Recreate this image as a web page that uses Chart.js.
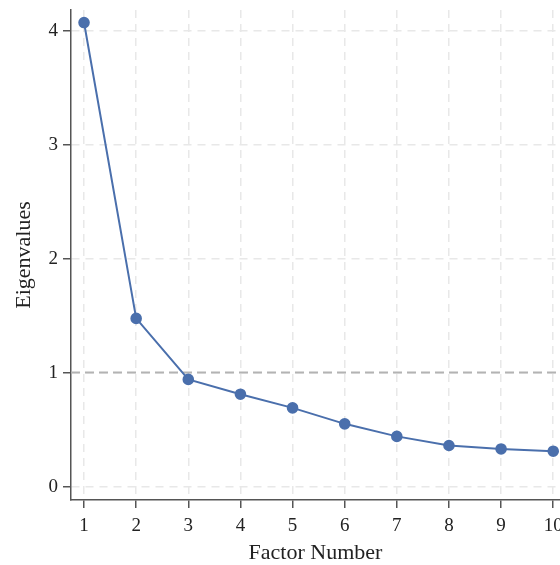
<!DOCTYPE html>
<html>
<head>
<meta charset="utf-8">
<script src="https://cdn.jsdelivr.net/npm/chart.js@4"></script>
<style>
  body { margin: 0; background: #fff; }
  #wrap { width: 560px; height: 565px; }
</style>
</head>
<body>
<div id="wrap"><canvas id="myChart"></canvas></div>
<script>
// DATA
const factors = [1, 2, 3, 4, 5, 6, 7, 8, 9, 10];
const eigenvalues = [4.07, 1.475, 0.94, 0.81, 0.69, 0.55, 0.44, 0.36, 0.33, 0.31];
const xTicks = [1, 2, 3, 4, 5, 6, 7, 8, 9, 10];
const yTicks = [0, 1, 2, 3, 4];
const cutoff = 1;

// AXIS RANGES
const xMin = 0.75, xMax = 10.13;
const yMin = -0.118, yMax = 4.18;

const serif = 'Liberation Serif';
const gridColor = '#e8e8e8';
const axisColor = '#555555';

// BUILD POINTS
let points = factors.map((f, i) => ({ x: f, y: eigenvalues[i] }));
let refLine = [{ x: xMin, y: cutoff }, { x: xMax, y: cutoff }];

Chart.defaults.font.family = serif;
Chart.defaults.color = '#222';

// no extra room for overflowing tick labels (the "10" is cut off like the original)
function noPad(s) {
    s.paddingLeft = 0;
    s.paddingRight = 0;
    s.paddingTop = 0;
    s.paddingBottom = 0;
}

var ctx = document.getElementById('myChart').getContext('2d');
var myChart = new Chart(ctx, {
    type: 'scatter',
    data: {
        datasets: [{
                label: 'Eigenvalues',
                data: points,
                showLine: true,
                borderColor: 'rgb(74, 111, 172)',
                backgroundColor: 'rgb(74, 111, 172)',
                borderWidth: 2,
                pointRadius: 4.8,
                pointHoverRadius: 4.8,
                order: 0
            },
            {
                label: 'cutoff',
                data: refLine,
                showLine: true,
                borderColor: '#b3b3b3',
                borderWidth: 2,
                borderDash: [9, 5],
                pointRadius: 0,
                order: 1
            }
        ]
    },
    options: {
        responsive: true,
        maintainAspectRatio: false,
        animation: false,
        layout: { autoPadding: false, padding: { top: 10, right: 0, left: 0, bottom: 0 } },
        plugins: {
            legend: { display: false },
            tooltip: { enabled: false }
        },
        scales: {
            x: {
                type: 'linear',
                min: xMin,
                max: xMax,
                afterBuildTicks: s => { s.ticks = xTicks.map(v => ({ value: v })); },
                afterFit: s => { s.height = 65; noPad(s); },
                ticks: {
                    font: { size: 19 },
                    color: '#222',
                    padding: 7,
                    maxRotation: 0,
                    callback: v => v
                },
                grid: {
                    color: gridColor,
                    lineWidth: 1.5,
                    tickLength: 8,
                    tickColor: axisColor,
                    tickWidth: 1.5
                },
                border: { display: true, color: axisColor, width: 1.5, dash: [8, 6] },
                title: {
                    display: true,
                    text: 'Factor Number',
                    font: { size: 22 },
                    color: '#222',
                    padding: { top: 0, bottom: -1 }
                }
            },
            y: {
                type: 'linear',
                min: yMin,
                max: yMax,
                afterBuildTicks: s => { s.ticks = yTicks.map(v => ({ value: v })); },
                afterFit: s => { s.width = 71; noPad(s); },
                ticks: {
                    font: { size: 19 },
                    color: '#222',
                    padding: 5,
                    callback: v => v
                },
                grid: {
                    color: gridColor,
                    lineWidth: 1.5,
                    tickLength: 8,
                    tickColor: axisColor,
                    tickWidth: 1.5
                },
                border: { display: true, color: axisColor, width: 1.5, dash: [8, 6] },
                title: {
                    display: true,
                    text: 'Eigenvalues',
                    font: { size: 22 },
                    color: '#222',
                    padding: { top: 11, bottom: 0 }
                }
            }
        }
    }
});
</script>
</body>
</html>
